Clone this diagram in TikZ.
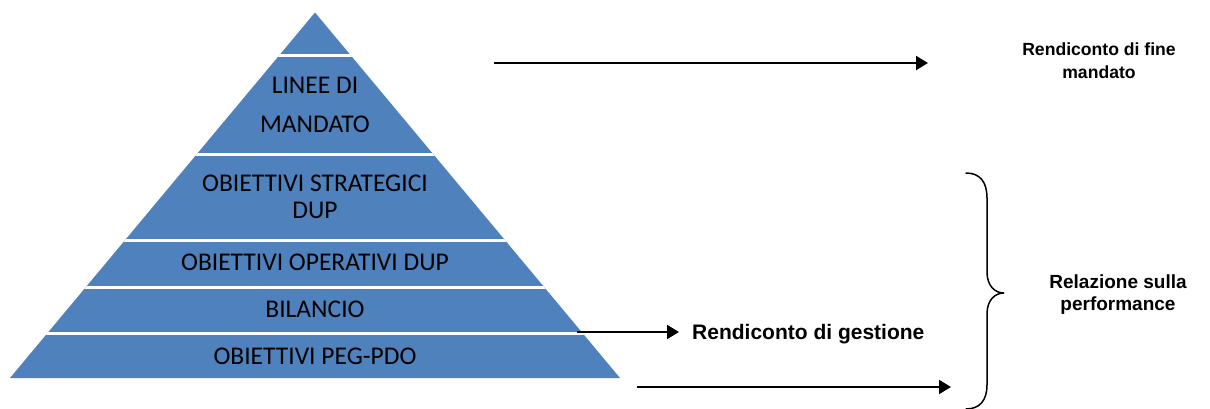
\documentclass[tikz,border=0pt]{standalone}
\usepackage{fontspec}
\setmainfont{Liberation Sans}
\newfontfamily\calfont{Carlito}
\usetikzlibrary{arrows.meta}
\definecolor{pyrblue}{HTML}{4F81BD}
\begin{document}
\begin{tikzpicture}[x=1pt,y=-1pt,
  pyrtext/.style={anchor=base,inner sep=0pt,font=\calfont\fontsize{25.5}{30}\selectfont,text=black},
  sidetext/.style={anchor=base,inner sep=0pt,font=\bfseries\fontsize{19}{23}\selectfont,text=black},
  arr/.style={line width=2pt,-{Triangle[length=12pt,width=14pt]}},
  sep/.style={white,line width=3pt}]
\useasboundingbox (0,0) rectangle (1210,409);
% pyramid
\coordinate (apex) at (315,12.5);
\coordinate (bl) at (10,378);
\coordinate (br) at (620,378);
\fill[pyrblue] (apex) -- (br) -- (bl) -- cycle;
\begin{scope}
  \clip (apex) -- (br) -- (bl) -- cycle;
  \foreach \yy in {56,155,240,287,333}{\draw[sep] (0,\yy) -- (700,\yy);}
\end{scope}
% pyramid labels
\node[pyrtext] (l1a) at (315,94) {LINEE DI};
\node[pyrtext] (l1b) at (315,132) {MANDATO};
\node[pyrtext] (l2a) at (315,191) {OBIETTIVI STRATEGICI};
\node[pyrtext] (l2b) at (315,218) {DUP};
\node[pyrtext] (l3) at (315,270) {OBIETTIVI OPERATIVI DUP};
\node[pyrtext] (l4) at (315,317) {BILANCIO};
\node[pyrtext] (l5) at (315,364) {OBIETTIVI PEG-PDO};
% side labels
\node[sidetext,font=\bfseries\fontsize{17.6}{21}\selectfont] (rf1) at (1099,56) {Rendiconto di fine};
\node[sidetext,font=\bfseries\fontsize{17.6}{21}\selectfont] (rf2) at (1099,79) {mandato};
\node[sidetext,anchor=base west,font=\bfseries\fontsize{21}{25}\selectfont] (rg) at (692,339) {Rendiconto di gestione};
\node[sidetext] (rp1) at (1118,288) {Relazione sulla};
\node[sidetext] (rp2) at (1118,310) {performance};
% arrows
\coordinate (a1s) at (494,63);
\coordinate (a1e) at (928,63);
\coordinate (a2s) at (577,332);
\coordinate (a2e) at (679,332);
\coordinate (a3s) at (637,387);
\coordinate (a3e) at (951,387);
\draw[arr] (a1s) -- (a1e);
\draw[arr] (a2s) -- (a2e);
\draw[arr] (a3s) -- (a3e);
% brace
\coordinate (btop) at (966,173);
\coordinate (btip) at (1004,293);
\coordinate (bbot) at (966,409);
\draw[line width=1.5pt,line cap=round]
  (btop) .. controls (980,173) and (987,182) .. (987,198)
  -- (987,272) .. controls (987,286) and (995,293) .. (btip)
  .. controls (995,293) and (987,300) .. (987,314)
  -- (987,385) .. controls (987,400) and (980,409) .. (bbot);
\end{tikzpicture}
\end{document}
